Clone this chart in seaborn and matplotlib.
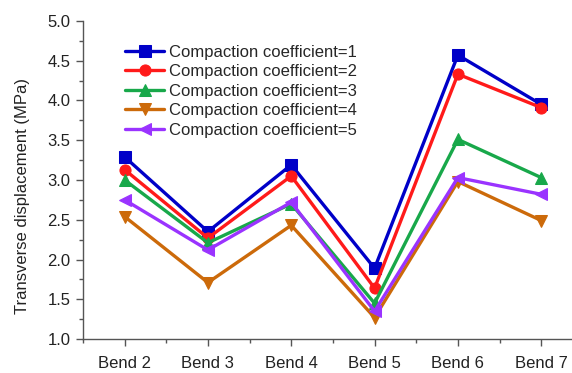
import pandas as pd
import numpy as np
import matplotlib
matplotlib.use('Agg')
import matplotlib.pyplot as plt
from matplotlib.ticker import MultipleLocator, FormatStrFormatter
import seaborn as sns

# Chart data
bends = ['Bend 2', 'Bend 3', 'Bend 4', 'Bend 5', 'Bend 6', 'Bend 7']
coef_1 = [3.29, 2.35, 3.19, 1.89, 4.57, 3.95]
coef_2 = [3.13, 2.27, 3.05, 1.64, 4.33, 3.91]
coef_3 = [3.00, 2.21, 2.70, 1.45, 3.51, 3.03]
coef_4 = [2.54, 1.71, 2.43, 1.27, 2.98, 2.49]
coef_5 = [2.75, 2.12, 2.72, 1.35, 3.03, 2.82]
labels = ['Compaction coefficient=1', 'Compaction coefficient=2', 'Compaction coefficient=3',
          'Compaction coefficient=4', 'Compaction coefficient=5']

colors = ['#0000c8', '#ff1a1a', '#18a84a', '#cc6a0a', '#9a33ff']
markers = ['s', 'o', '^', 'v', '<']


# Build a long-form table for seaborn
def build_frame():
    rows = []
    for label, vals in zip(labels, [coef_1, coef_2, coef_3, coef_4, coef_5]):
        for i, v in enumerate(vals):
            rows.append({'pos': i, 'value': v, 'series': label})
    return pd.DataFrame(rows)


def main():
    sns.set_style('ticks')
    plt.rcParams['font.family'] = ['Liberation Sans', 'DejaVu Sans']

    df = build_frame()
    fig = plt.figure(figsize=(5.72, 3.73), dpi=100)
    ax = fig.add_axes([0.145, 0.091, 0.874, 0.853])

    for label, color, marker in zip(labels, colors, markers):
        sub = df[df['series'] == label]
        sns.lineplot(data=sub, x='pos', y='value', ax=ax, color=color, marker=marker,
                     markersize=8, markeredgecolor=color, linewidth=2.4, label=label)

    ax.set_xlim(-0.5, 5.5)
    ax.set_ylim(1.0, 5.0)
    ax.set_xticks(range(len(bends)))
    ax.set_xticklabels(bends)
    ax.xaxis.set_minor_locator(MultipleLocator(0.5))
    ax.yaxis.set_major_locator(MultipleLocator(0.5))
    ax.yaxis.set_minor_locator(MultipleLocator(0.25))
    ax.yaxis.set_major_formatter(FormatStrFormatter('%.1f'))
    ax.tick_params(which='major', direction='out', length=5, width=1, color='#555555',
                   labelsize=12, labelcolor='#222222')
    ax.tick_params(axis='x', which='major', pad=7)
    ax.tick_params(axis='y', which='major', pad=4)
    ax.tick_params(which='minor', direction='out', length=3, width=1, color='#555555')
    ax.set_xlabel('')
    ax.set_ylabel('Transverse displacement (MPa)', fontsize=12, color='#222222')
    ax.yaxis.set_label_coords(-0.105, 0.45)

    sns.despine(ax=ax)
    for side in ['left', 'bottom']:
        ax.spines[side].set_color('#555555')
        ax.spines[side].set_linewidth(1)

    ax.legend(loc='upper left', bbox_to_anchor=(0.085, 0.925), frameon=False, fontsize=12,
              handlelength=2.3, handletextpad=0.3, labelspacing=0.27, borderaxespad=0,
              borderpad=0)

    fig.savefig('out.png', dpi=100)


if __name__ == '__main__':
    main()
